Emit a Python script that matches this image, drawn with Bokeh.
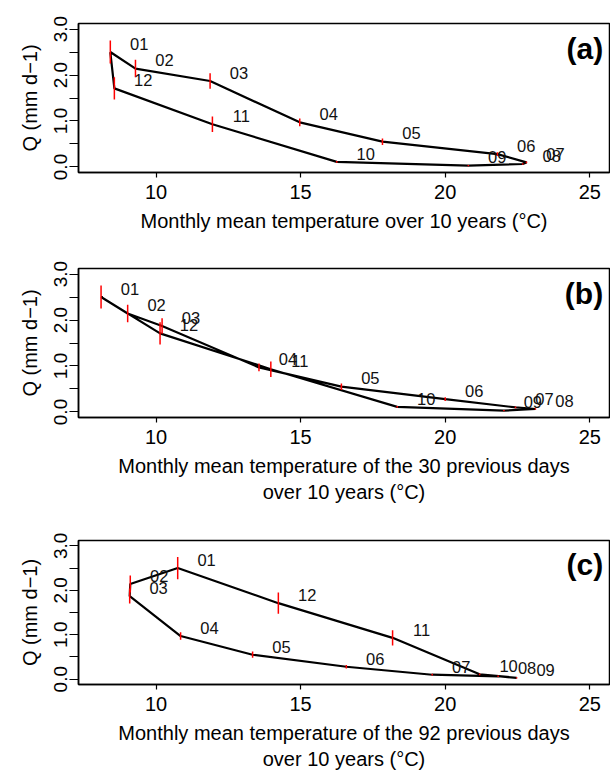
from bokeh.plotting import figure
from bokeh.layouts import column
from bokeh.models import FixedTicker, PrintfTickFormatter, Label, ColumnDataSource
from bokeh.core.properties import value
from bokeh.embed import file_html
from bokeh.resources import INLINE

months = ["01", "02", "03", "04", "05", "06", "07", "08", "09", "10", "11", "12"]
q = [2.50, 2.14, 1.87, 0.97, 0.55, 0.28, 0.10, 0.065, 0.03, 0.11, 0.93, 1.71]
q_err = [0.25, 0.19, 0.17, 0.085, 0.07, 0.04, 0.02, 0.015, 0.015, 0.02, 0.17, 0.24]
temp_a = [8.42, 9.29, 11.87, 14.97, 17.83, 21.80, 22.81, 22.68, 20.80, 16.25, 11.95, 8.56]
temp_b = [8.10, 9.02, 10.21, 13.56, 16.41, 20.00, 22.43, 23.12, 22.03, 18.34, 13.97, 10.14]
temp_c = [10.75, 9.11, 9.09, 10.85, 13.34, 16.58, 19.55, 21.83, 22.47, 21.19, 18.18, 14.23]
x_ticks = [10, 15, 20, 25]
y_ticks = [0, 1, 2, 3]
y_minor = [0.5, 1.5, 2.5]
panel_letters = ["(a)", "(b)", "(c)"]
x_titles = [
    "Monthly mean temperature over 10 years (\u00b0C)",
    "Monthly mean temperature of the 30 previous days\nover 10 years (\u00b0C)",
    "Monthly mean temperature of the 92 previous days\nover 10 years (\u00b0C)",
]
y_title = "Q (mm d\u22121)"

FONT = "Liberation Sans"


def make_panel(temps, letter, xtitle, height, bottom):
    p = figure(width=610, height=height, x_range=(7.32, 25.68), y_range=(-0.12, 3.12),
               output_backend="svg", toolbar_location=None,
               min_border_left=78, min_border_right=1, min_border_top=23,
               min_border_bottom=bottom)
    p.grid.visible = False
    p.outline_line_color = "black"
    p.outline_line_width = 1.5
    p.background_fill_color = "white"
    p.border_fill_color = "white"

    lx = temps + [temps[0]]
    ly = q + [q[0]]
    p.line(lx, ly, line_color="black", line_width=2.2)

    lo = [a - b for a, b in zip(q, q_err)]
    hi = [a + b for a, b in zip(q, q_err)]
    p.segment(x0=temps, y0=lo, x1=temps, y1=hi, line_color="red", line_width=1.5)

    src = ColumnDataSource(dict(x=[t + 1.0 for t in temps], y=[v + 0.18 for v in q], m=months))
    p.text(x="x", y="y", text="m", source=src, text_align="center", text_baseline="middle",
           text_font=value(FONT), text_font_size="16.5px", text_color="#111111")

    p.add_layout(Label(x=25.46, y=2.57, text=letter, text_align="right", text_baseline="middle",
                       text_font=FONT, text_font_size="30px", text_font_style="bold",
                       text_color="black"))

    xa = p.xaxis[0]
    xa.ticker = FixedTicker(ticks=x_ticks)
    xa.major_tick_out = 5
    xa.major_tick_in = 0
    xa.minor_tick_out = 0
    xa.minor_tick_in = 0
    xa.axis_line_color = "black"
    xa.axis_line_width = 1.5
    xa.major_tick_line_width = 1.2
    xa.major_label_text_font = FONT
    xa.major_label_text_font_size = "20px"
    xa.major_label_text_color = "black"
    xa.major_label_standoff = 7
    xa.axis_label = xtitle
    xa.axis_label_text_font = FONT
    xa.axis_label_text_font_size = "20px"
    xa.axis_label_text_font_style = "normal"
    xa.axis_label_text_color = "black"
    xa.axis_label_standoff = 8

    ya = p.yaxis[0]
    ya.ticker = FixedTicker(ticks=y_ticks, minor_ticks=y_minor)
    ya.formatter = PrintfTickFormatter(format="%.1f")
    ya.major_tick_out = 9
    ya.major_tick_in = 0
    ya.minor_tick_out = 9
    ya.minor_tick_in = 0
    ya.minor_tick_line_color = "black"
    ya.major_tick_line_width = 1.2
    ya.minor_tick_line_width = 1.2
    ya.axis_line_color = "black"
    ya.axis_line_width = 1.5
    ya.major_label_orientation = "vertical"
    ya.major_label_text_font = FONT
    ya.major_label_text_font_size = "19px"
    ya.major_label_text_color = "black"
    ya.major_label_standoff = 2
    ya.axis_label = y_title
    ya.axis_label_text_font = FONT
    ya.axis_label_text_font_size = "20px"
    ya.axis_label_text_font_style = "normal"
    ya.axis_label_text_color = "black"
    ya.axis_label_standoff = 11
    return p


pa = make_panel(temp_a, panel_letters[0], x_titles[0], 245, 73)
pb = make_panel(temp_b, panel_letters[1], x_titles[1], 272, 100)
pc = make_panel(temp_c, panel_letters[2], x_titles[2], 255, 83)

layout = column(pa, pb, pc, spacing=0)
open("out.html", "w").write(file_html(layout, INLINE))
